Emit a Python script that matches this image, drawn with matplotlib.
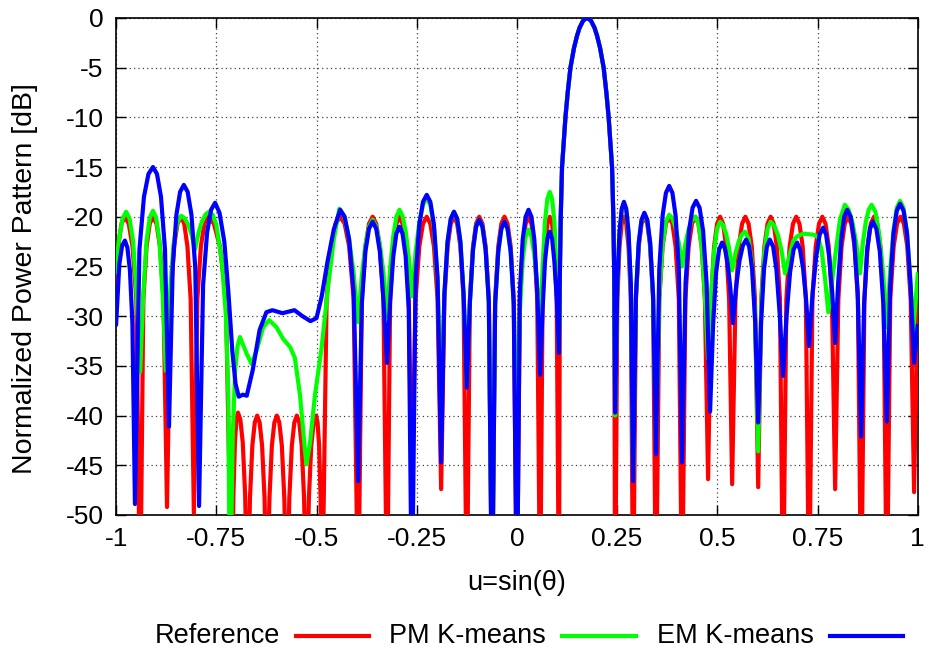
import matplotlib
matplotlib.use("Agg")
import matplotlib.pyplot as plt
from matplotlib.lines import Line2D

plt.rcParams['font.family'] = ['Liberation Sans', 'DejaVu Sans']

# Normalized power patterns (u = sin(theta), dB): lobe peaks, nulls and shoulder samples.
main_beam = [
    (0.1071, -26.0), (0.1094, -20.0), (0.1126, -15.0), (0.1211, -10.0), (0.1268, -7.5),
    (0.1336, -5.0), (0.1426, -3.0), (0.150, -1.8), (0.1563, -1.0), (0.1656, -0.25),
    (0.175, 0.0),
    (0.1844, -0.25), (0.1937, -1.0), (0.200, -1.8), (0.2074, -3.0), (0.2164, -5.0),
    (0.2232, -7.5), (0.2289, -10.0), (0.2374, -15.0), (0.2406, -20.0), (0.2429, -26.0),
]

reference_left = [
    (-1.000, -27.6), (-0.995, -23.0), (-0.9865, -20.7), (-0.978, -20.0),
    (-0.9685, -20.7), (-0.959, -23.0), (-0.9495, -28.3), (-0.940, -60.0),
    (-0.932, -28.3), (-0.924, -23.0), (-0.916, -20.7), (-0.908, -20.0),
    (-0.8993, -20.7), (-0.8905, -23.0), (-0.8818, -28.3), (-0.873, -49.2),
    (-0.8643, -28.3), (-0.8555, -23.0), (-0.8468, -20.7), (-0.838, -20.0),
    (-0.830, -20.7), (-0.822, -23.0), (-0.814, -28.3), (-0.806, -49.8),
    (-0.7973, -28.3), (-0.7885, -23.0), (-0.7798, -20.7), (-0.771, -20.0),
    (-0.756, -20.7), (-0.741, -23.0), (-0.726, -28.3), (-0.711, -60.0),
    (-0.7073, -48.0), (-0.7035, -42.7), (-0.6998, -40.4), (-0.696, -39.7),
    (-0.690, -40.4), (-0.684, -42.7), (-0.678, -48.0), (-0.672, -60.0),
    (-0.666, -48.3), (-0.660, -43.0), (-0.654, -40.7), (-0.648, -40.0),
    (-0.6419, -40.7), (-0.6358, -43.0), (-0.6296, -48.3), (-0.6235, -60.0),
    (-0.6174, -48.3), (-0.6113, -43.0), (-0.6051, -40.7), (-0.599, -40.0),
    (-0.5928, -40.7), (-0.5865, -43.0), (-0.5803, -48.3), (-0.574, -60.0),
    (-0.5678, -48.3), (-0.5615, -43.0), (-0.5553, -40.7), (-0.549, -40.0),
    (-0.543, -40.7), (-0.537, -43.0), (-0.531, -48.3), (-0.525, -60.0),
    (-0.519, -48.3), (-0.513, -43.0), (-0.507, -40.7), (-0.501, -40.0),
    (-0.4973, -40.7), (-0.4935, -43.0), (-0.4898, -48.3), (-0.486, -60.0),
    (-0.4748, -28.3), (-0.4635, -23.0), (-0.4523, -20.7), (-0.441, -20.0),
    (-0.4298, -20.7), (-0.4185, -23.0), (-0.4073, -28.3), (-0.396, -60.0),
    (-0.387, -28.3), (-0.378, -23.0), (-0.369, -20.7), (-0.360, -20.0),
    (-0.351, -20.7), (-0.342, -23.0), (-0.333, -28.3), (-0.324, -60.0),
    (-0.3163, -28.3), (-0.3085, -23.0), (-0.3008, -20.7), (-0.293, -20.0),
    (-0.2853, -20.7), (-0.2775, -23.0), (-0.2698, -28.3), (-0.262, -48.6),
    (-0.2528, -28.3), (-0.2435, -23.0), (-0.2343, -20.7), (-0.225, -20.0),
    (-0.216, -20.7), (-0.207, -23.0), (-0.198, -28.3), (-0.189, -47.4),
    (-0.181, -28.3), (-0.173, -23.0), (-0.165, -20.7), (-0.157, -20.0),
    (-0.149, -20.7), (-0.141, -23.0), (-0.133, -28.3), (-0.125, -60.0),
    (-0.1173, -28.3), (-0.1095, -23.0), (-0.1018, -20.7), (-0.094, -20.0),
    (-0.086, -20.7), (-0.078, -23.0), (-0.070, -28.3), (-0.062, -60.0),
    (-0.0543, -28.3), (-0.0465, -23.0), (-0.0388, -20.7), (-0.031, -20.0),
    (-0.0233, -20.7), (-0.0155, -23.0), (-0.0078, -28.3), (0.000, -60.0),
    (0.0073, -28.3), (0.0145, -23.0), (0.0218, -20.7), (0.029, -20.0),
    (0.0363, -20.7), (0.0435, -23.0), (0.0508, -28.3), (0.058, -60.0),
    (0.064, -28.3), (0.070, -23.0), (0.076, -20.7), (0.082, -20.0),
    (0.0878, -20.7), (0.0935, -23.0), (0.0993, -28.3), (0.105, -60.0),
]

reference_right = [
    (0.245, -60.0),
    (0.2505, -28.3), (0.256, -23.0), (0.2615, -20.7), (0.267, -20.0),
    (0.2728, -20.7), (0.2785, -23.0), (0.2843, -28.3), (0.290, -60.0),
    (0.297, -28.3), (0.304, -23.0), (0.311, -20.7), (0.318, -20.0),
    (0.3253, -20.7), (0.3325, -23.0), (0.3398, -28.3), (0.347, -60.0),
    (0.3553, -28.3), (0.3635, -23.0), (0.3718, -20.7), (0.380, -20.0),
    (0.388, -20.7), (0.396, -23.0), (0.404, -28.3), (0.412, -60.0),
    (0.4203, -28.3), (0.4285, -23.0), (0.4368, -20.7), (0.445, -20.0),
    (0.453, -20.7), (0.461, -23.0), (0.469, -28.3), (0.477, -46.4),
    (0.4845, -28.3), (0.492, -23.0), (0.4995, -20.7), (0.507, -20.0),
    (0.5145, -20.7), (0.522, -23.0), (0.5295, -28.3), (0.537, -46.9),
    (0.5453, -28.3), (0.5535, -23.0), (0.5618, -20.7), (0.570, -20.0),
    (0.578, -20.7), (0.586, -23.0), (0.594, -28.3), (0.602, -47.2),
    (0.6098, -28.3), (0.6175, -23.0), (0.6253, -20.7), (0.633, -20.0),
    (0.6408, -20.7), (0.6485, -23.0), (0.6563, -28.3), (0.664, -60.0),
    (0.6723, -28.3), (0.6805, -23.0), (0.6888, -20.7), (0.697, -20.0),
    (0.705, -20.7), (0.713, -23.0), (0.721, -28.3), (0.729, -60.0),
    (0.7373, -28.3), (0.7455, -23.0), (0.7538, -20.7), (0.762, -20.0),
    (0.770, -20.7), (0.778, -23.0), (0.786, -28.3), (0.794, -47.4),
    (0.802, -28.3), (0.810, -23.0), (0.818, -20.7), (0.826, -20.0),
    (0.8343, -20.7), (0.8425, -23.0), (0.8508, -28.3), (0.859, -60.0),
    (0.867, -28.3), (0.875, -23.0), (0.883, -20.7), (0.891, -20.0),
    (0.899, -20.7), (0.907, -23.0), (0.915, -28.3), (0.923, -60.0),
    (0.9315, -28.3), (0.940, -23.0), (0.9485, -20.7), (0.957, -20.0),
    (0.9655, -20.7), (0.974, -23.0), (0.9825, -28.3), (0.991, -47.7),
    (1.000, -28.0),
]

pm_kmeans_left = [
    (-1.000, -25.6), (-0.993, -22.3), (-0.984, -20.2), (-0.975, -19.5),
    (-0.9663, -20.2), (-0.9575, -22.5), (-0.9488, -27.8), (-0.940, -35.6),
    (-0.932, -27.7), (-0.924, -22.4), (-0.916, -20.1), (-0.908, -19.4),
    (-0.900, -20.1), (-0.892, -22.4), (-0.884, -27.7), (-0.876, -35.5),
    (-0.8665, -28.2), (-0.857, -22.9), (-0.8475, -20.6), (-0.838, -19.9),
    (-0.8293, -20.14), (-0.8205, -20.75), (-0.8118, -21.77), (-0.803, -23.3),
    (-0.7943, -21.59), (-0.7855, -20.45), (-0.7768, -19.77), (-0.768, -19.5),
    (-0.759, -19.8), (-0.750, -20.8), (-0.736, -24.5), (-0.726, -30.0),
    (-0.720, -38.0), (-0.716, -60.0),
    (-0.709, -42.0), (-0.703, -35.5), (-0.697, -33.0), (-0.691, -32.1),
    (-0.674, -33.8), (-0.662, -34.8), (-0.649, -33.4), (-0.633, -31.1),
    (-0.618, -30.4), (-0.600, -31.1), (-0.583, -32.3), (-0.566, -33.1),
    (-0.554, -34.2), (-0.541, -38.0), (-0.529, -43.4), (-0.525, -44.9),
    (-0.516, -42.7), (-0.504, -38.0), (-0.487, -33.1), (-0.471, -27.0),
    (-0.457, -22.3), (-0.443, -19.2),
    (-0.4313, -19.9), (-0.4195, -22.05), (-0.4078, -25.5), (-0.396, -30.6),
    (-0.387, -25.97), (-0.378, -22.88), (-0.369, -21.0), (-0.360, -20.3),
    (-0.351, -21.0), (-0.342, -22.73), (-0.333, -25.64), (-0.324, -30.0),
    (-0.3163, -25.19), (-0.3085, -21.98), (-0.3008, -20.0), (-0.293, -19.3),
    (-0.2853, -19.91), (-0.2775, -21.48), (-0.2698, -24.09), (-0.262, -28.0),
    (-0.2528, -23.55), (-0.2435, -20.58), (-0.2343, -18.8), (-0.225, -18.1),
    (-0.216, -18.8), (-0.207, -21.1), (-0.198, -26.4), (-0.189, -40.0),
    (-0.181, -27.8), (-0.173, -22.5), (-0.165, -20.2), (-0.157, -19.5),
    (-0.149, -20.2), (-0.141, -22.5), (-0.133, -27.8), (-0.125, -37.0),
    (-0.1173, -28.6), (-0.1095, -23.3), (-0.1018, -21.0), (-0.094, -20.3),
    (-0.086, -21.0), (-0.078, -23.3), (-0.070, -28.6), (-0.062, -60.0),
    (-0.0543, -28.8), (-0.0465, -23.5), (-0.0388, -21.2), (-0.031, -20.5),
    (-0.0233, -21.2), (-0.0155, -23.5), (-0.0078, -28.8), (0.000, -45.0),
    (0.0073, -29.6), (0.0145, -24.3), (0.0218, -22.0), (0.029, -21.3),
    (0.0363, -22.0), (0.0435, -23.85), (0.0508, -26.91), (0.058, -31.5),
    (0.064, -25.2), (0.070, -20.5), (0.076, -18.2), (0.082, -17.5),
    (0.0878, -18.2), (0.0935, -20.5), (0.0993, -25.8), (0.105, -33.5),
]

pm_kmeans_right = [
    (0.245, -40.0),
    (0.2505, -27.0), (0.256, -21.7), (0.2615, -19.4), (0.267, -18.7),
    (0.2728, -19.4), (0.2785, -21.7), (0.2843, -27.0), (0.290, -46.0),
    (0.297, -28.0), (0.304, -22.7), (0.311, -20.4), (0.318, -19.7),
    (0.3253, -20.4), (0.3325, -22.7), (0.3398, -28.0), (0.347, -43.0),
    (0.3553, -28.1), (0.3635, -22.8), (0.3718, -20.5), (0.380, -19.8),
    (0.388, -20.16), (0.396, -21.1), (0.404, -22.66), (0.412, -25.0),
    (0.4203, -22.75), (0.4285, -21.25), (0.4368, -20.35), (0.445, -20.0),
    (0.453, -20.7), (0.461, -23.0), (0.469, -27.87), (0.477, -34.3),
    (0.4845, -28.09), (0.492, -23.45), (0.4995, -21.2), (0.507, -20.5),
    (0.5145, -20.84), (0.522, -21.73), (0.5295, -23.2), (0.537, -25.4),
    (0.5453, -23.65), (0.5535, -22.48), (0.5618, -21.77), (0.569, -21.5),
    (0.578, -22.2), (0.586, -24.5), (0.594, -29.8), (0.602, -43.6),
    (0.6098, -28.8), (0.6175, -23.5), (0.6253, -21.2), (0.633, -20.5),
    (0.642, -20.86), (0.651, -21.8), (0.660, -23.36), (0.669, -25.7),
    (0.682, -23.6), (0.690, -22.4), (0.698, -22.0), (0.714, -21.7),
    (0.739, -21.8), (0.751, -22.0), (0.760, -23.3), (0.769, -26.3),
    (0.777, -29.6), (0.785, -27.0), (0.794, -24.0), (0.806, -20.3),
    (0.818, -18.8),
    (0.8275, -19.28), (0.837, -20.53), (0.8465, -22.6), (0.856, -25.7),
    (0.8633, -22.6), (0.8705, -20.53), (0.8778, -19.28), (0.885, -18.8),
    (0.8945, -19.5), (0.904, -21.8), (0.9135, -25.57), (0.923, -31.1),
    (0.9313, -25.38), (0.9395, -21.4), (0.9478, -19.1), (0.956, -18.4),
    (0.9643, -19.1), (0.9725, -21.4), (0.9808, -25.6), (0.989, -31.5),
    (1.000, -25.8),
]

em_kmeans_left = [
    (-1.000, -30.8), (-0.992, -24.8), (-0.985, -22.9), (-0.978, -22.4),
    (-0.9718, -23.1), (-0.9655, -25.4), (-0.9593, -30.7), (-0.953, -48.9),
    (-0.9418, -23.3), (-0.9305, -18.0), (-0.9193, -15.7), (-0.908, -15.0),
    (-0.898, -15.7), (-0.888, -18.0), (-0.878, -23.3), (-0.868, -41.1),
    (-0.8588, -25.1), (-0.8495, -19.8), (-0.8403, -17.5), (-0.831, -16.8),
    (-0.8215, -17.5), (-0.812, -19.8), (-0.8025, -25.1), (-0.793, -49.1),
    (-0.783, -26.9), (-0.773, -21.6), (-0.763, -19.3), (-0.753, -18.6),
    (-0.742, -19.6), (-0.730, -22.5), (-0.720, -27.5), (-0.710, -33.5),
    (-0.702, -36.8), (-0.694, -38.1), (-0.684, -37.9), (-0.674, -38.0),
    (-0.659, -35.4), (-0.642, -31.4), (-0.625, -29.6), (-0.610, -29.4),
    (-0.585, -29.7), (-0.555, -29.4), (-0.535, -30.0), (-0.515, -30.5),
    (-0.500, -30.2), (-0.487, -28.0), (-0.472, -24.4), (-0.457, -21.3),
    (-0.441, -19.3),
    (-0.4298, -20.0), (-0.4185, -22.3), (-0.4073, -27.6), (-0.396, -46.6),
    (-0.387, -28.8), (-0.378, -23.5), (-0.369, -21.2), (-0.360, -20.5),
    (-0.351, -21.2), (-0.342, -23.5), (-0.333, -28.3), (-0.324, -34.7),
    (-0.3163, -28.5), (-0.3085, -24.0), (-0.3008, -21.7), (-0.293, -21.0),
    (-0.2853, -21.7), (-0.2775, -24.0), (-0.2698, -29.3), (-0.262, -60.0),
    (-0.2528, -26.1), (-0.2435, -20.8), (-0.2343, -18.5), (-0.225, -17.8),
    (-0.216, -18.5), (-0.207, -20.8), (-0.198, -26.1), (-0.189, -44.7),
    (-0.181, -27.8), (-0.173, -22.5), (-0.165, -20.2), (-0.157, -19.5),
    (-0.149, -20.2), (-0.141, -22.5), (-0.133, -27.8), (-0.125, -37.2),
    (-0.1173, -28.6), (-0.1095, -23.3), (-0.1018, -21.0), (-0.094, -20.3),
    (-0.086, -21.0), (-0.078, -23.3), (-0.070, -28.6), (-0.062, -60.0),
    (-0.0543, -28.8), (-0.0465, -23.5), (-0.0388, -21.2), (-0.031, -20.5),
    (-0.0233, -21.2), (-0.0155, -23.5), (-0.0078, -28.8), (0.000, -60.0),
    (0.0073, -27.6), (0.0145, -22.3), (0.0218, -20.0), (0.029, -19.3),
    (0.0363, -20.0), (0.0435, -22.3), (0.0508, -27.6), (0.058, -35.9),
    (0.064, -29.4), (0.070, -24.5), (0.076, -22.2), (0.082, -21.5),
    (0.0878, -22.2), (0.0935, -24.5), (0.0993, -28.2), (0.105, -33.7),
]

em_kmeans_right = [
    (0.245, -39.7),
    (0.2505, -26.8), (0.256, -21.5), (0.2615, -19.2), (0.267, -18.5),
    (0.2728, -19.2), (0.2785, -21.5), (0.2843, -26.8), (0.290, -46.6),
    (0.297, -27.9), (0.304, -22.6), (0.311, -20.3), (0.318, -19.6),
    (0.3253, -20.3), (0.3325, -22.6), (0.3398, -27.9), (0.347, -43.9),
    (0.3553, -25.2), (0.3635, -19.9), (0.3718, -17.6), (0.380, -16.9),
    (0.388, -17.6), (0.396, -19.9), (0.404, -25.2), (0.412, -44.7),
    (0.4208, -26.7), (0.4295, -21.4), (0.4383, -19.1), (0.447, -18.4),
    (0.4558, -19.1), (0.4645, -21.4), (0.4733, -26.7), (0.482, -39.6),
    (0.4895, -30.9), (0.497, -25.6), (0.5045, -23.3), (0.512, -22.6),
    (0.5188, -23.17), (0.5255, -24.63), (0.5323, -27.06), (0.539, -30.7),
    (0.5473, -26.92), (0.5555, -24.4), (0.5638, -22.89), (0.572, -22.3),
    (0.5795, -23.0), (0.587, -25.3), (0.5945, -30.6), (0.602, -40.7),
    (0.6093, -30.6), (0.6165, -25.3), (0.6238, -23.0), (0.631, -22.3),
    (0.6393, -23.0), (0.6475, -25.3), (0.6558, -29.84), (0.664, -36.0),
    (0.6728, -29.97), (0.6815, -25.6), (0.6903, -23.3), (0.699, -22.6),
    (0.7065, -23.3), (0.714, -25.2), (0.7215, -28.32), (0.729, -33.0),
    (0.7378, -27.65), (0.7465, -24.1), (0.7553, -21.8), (0.764, -21.1),
    (0.7715, -21.8), (0.779, -24.0), (0.7865, -27.48), (0.794, -32.7),
    (0.8015, -26.67), (0.809, -22.3), (0.8165, -20.0), (0.824, -19.3),
    (0.8328, -20.0), (0.8415, -22.3), (0.8503, -27.6), (0.859, -42.1),
    (0.8663, -28.8), (0.8735, -23.5), (0.8808, -21.2), (0.888, -20.5),
    (0.8968, -21.2), (0.9055, -23.5), (0.9143, -28.8), (0.923, -40.6),
    (0.9313, -27.0), (0.9395, -21.7), (0.9478, -19.4), (0.956, -18.7),
    (0.9648, -19.4), (0.9735, -21.7), (0.9823, -27.0), (0.991, -34.7),
    (1.000, -31.0),
]

series_names = ["Reference", "PM K-means", "EM K-means"]
series_colors = ["#ff0000", "#00ff00", "#0000ff"]
x_ticks = [-1, -0.75, -0.5, -0.25, 0, 0.25, 0.5, 0.75, 1]
x_tick_labels = ["-1", "-0.75", "-0.5", "-0.25", "0", "0.25", "0.5", "0.75", "1"]
y_ticks = [0, -5, -10, -15, -20, -25, -30, -35, -40, -45, -50]
y_tick_labels = [str(v) for v in y_ticks]

curves = [
    reference_left + main_beam + reference_right,
    pm_kmeans_left + main_beam + pm_kmeans_right,
    em_kmeans_left + main_beam + em_kmeans_right,
]

W, H = 926, 650
fig = plt.figure(figsize=(W / 100, H / 100), dpi=100)
left, right, top, bottom = 116.1, 917.7, 17.9, 515.0
ax = fig.add_axes([left / W, 1 - bottom / H, (right - left) / W, (bottom - top) / H])

for pts, color in zip(curves, series_colors):
    u, db = zip(*pts)
    ax.plot(u, db, color=color, lw=3.0, solid_joinstyle='round', zorder=3)

ax.set_xlim(-1, 1)
ax.set_ylim(-50, 0)
ax.set_xticks(x_ticks)
ax.set_xticklabels(x_tick_labels)
ax.set_yticks(y_ticks)
ax.set_yticklabels(y_tick_labels)
ax.tick_params(direction='in', length=7, width=1.0, top=True, right=True,
               labelsize=19, pad=9, colors='black')
ax.grid(True, color='#444444', linestyle=(0, (1, 2.5)), linewidth=0.9, zorder=1)
for s in ax.spines.values():
    s.set_linewidth(1.2)

fig.text(517 / W, 1 - 583 / H, "u=sin(θ)", ha='center', va='center', fontsize=19.5)
fig.text(25 / W, 1 - 279 / H, "Normalized Power Pattern [dB]", ha='center', va='center',
         rotation=90, fontsize=20.5)

# Legend row below the axes: label text followed by a line sample
text_right = [280, 546, 814]
line_span = [(296, 369), (562, 636), (830, 903)]
legend_y = 636
for name, color, tx, (x0, x1) in zip(series_names, series_colors, text_right, line_span):
    fig.text(tx / W, 1 - legend_y / H, name, ha='right', va='center', fontsize=19.5)
    fig.add_artist(Line2D([x0 / W, x1 / W], [1 - legend_y / H, 1 - legend_y / H],
                          color=color, lw=3.0, transform=fig.transFigure))

fig.savefig("out.png", dpi=100)
